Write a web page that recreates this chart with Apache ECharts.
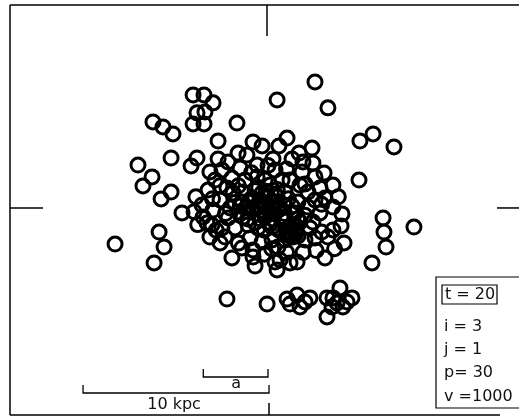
<!DOCTYPE html>
<html><head><meta charset="utf-8">
<script src="https://cdn.jsdelivr.net/npm/echarts@6/dist/echarts.min.js"></script>
<style>html,body{margin:0;padding:0;background:#fff}#c{width:519px;height:417px}</style>
</head><body><div id="c"></div>
<script>
// Particle positions in kpc relative to the centre of the frame
const xKpc = [2.54,0.49,3.24,-4.05,-3.46,-2.97,-3.84,-3.41,-4.05,-3.46,
-6.22,-5.68,-5.14,-1.68,-2.70,-5.24,-3.84,-4.16,-7.03,-0.81,
-0.32,-1.62,-1.14,-2.70,-2.16,4.97,5.68,6.81,1.03,2.38,
0.59,0.27,1.30,1.68,-6.27,-6.76,-5.24,-5.78,-4.65,-5.89,
-5.62,-8.27,-6.16,4.92,6.22,6.27,6.38,7.89,5.62,3.08,
4.11,3.95,-2.22,-0.05,1.03,1.57,1.73,2.27,3.19,3.89,
4.27,4.54,3.46,3.73,3.19,4.05,2.00,1.19,3.51,
-3.14,-2.59,-1.95,-1.41,-0.81,-0.32,-0.70,-3.03,-2.32,0.22,
-1.35,-1.08,-1.41,-1.89,-1.35,-0.70,-0.16,0.11,-0.59,-2.86,
-2.22,-3.24,-3.57,-3.51,-0.59,-3.14,-2.49,-3.30,
1.89,2.43,1.84,2.54,3.03,3.51,2.16,3.08,3.51,2.81,
2.16,1.62,4.00,3.24,2.54,2.00,1.35,0.92,0.22,0.54,
0.38,1.19,0.49,1.57,3.51,2.43,1.19,1.73,0.92,2.54,
1.46,2.27,2.81,1.73,
-2.59,-2.05,-1.62,-2.16,-1.78,-0.97,-0.54,-1.95,-1.24,-2.97,
-2.49,-1.51,0.38,0.76,
-0.43,0.00,0.43,-0.32,0.11,0.54,-0.16,0.27,-0.65,0.70,
-0.11,0.16,-0.54,0.38,-0.32,-0.86,0.86,0.00,
1.08,1.46,1.62,1.19,1.35,0.92,0.65,-0.81,
-0.90,0.90,-0.50,0.50,-0.20,0.60,-1.10,1.10,-0.70,0.30,-0.30,0.20,
-1.80,-2.30,-1.20,-0.90,0.00,1.00,2.00,1.30,2.00,2.90,2.90,3.80,
1.00,-0.20,-1.60,-2.80,-3.80,-3.90,-2.60,-1.60,0.20,1.90,2.60,3.60,
-4.00,-3.00,1.20,1.50,1.30,1.00,
-0.60,0.60,-0.10,0.10,-1.00,1.00,-0.40,0.50,1.60,-1.50];
const yKpc = [6.81,5.84,5.41,6.11,6.11,5.68,5.14,5.19,4.54,4.54,
4.65,4.38,4.00,4.59,3.62,2.70,2.70,2.27,2.32,3.57,
3.35,2.97,2.86,2.65,2.49,3.62,4.00,3.30,3.78,3.24,
3.35,2.65,2.65,2.97,1.68,1.19,0.86,0.49,-0.27,-1.30,
-2.11,-1.95,-2.97,1.51,-0.54,-1.30,-2.11,-1.03,-2.97,-2.70,
-1.89,-0.97,-4.92,-5.19,-4.92,-4.70,-5.35,-4.86,-4.86,-4.32,
-5.08,-4.86,-5.35,-5.14,-5.89,-5.35,-5.08,-5.19,-4.86,
-1.57,-1.89,-2.70,-2.16,-2.65,-1.84,-3.14,-0.92,-1.57,-1.73,
-0.49,-0.92,0.32,0.81,0.86,0.97,1.51,1.24,2.32,1.51,
1.08,0.97,0.16,-0.49,1.68,1.95,2.05,-0.81,
2.49,2.43,1.95,1.68,1.89,1.24,0.86,0.54,0.05,-0.27,
0.05,0.32,-0.32,-1.57,-1.62,-1.73,-1.57,-0.65,-1.03,-2.11,
-2.92,-2.97,-3.35,-2.92,-1.19,-0.76,1.51,1.24,0.86,0.43,
-0.27,-1.08,1.08,-0.76,
0.43,0.00,-0.22,-0.54,-1.08,-1.62,-1.08,1.62,1.51,-0.11,
-1.08,2.16,2.05,1.51,
0.43,0.59,0.32,-0.11,-0.22,-0.11,-0.49,-0.59,0.11,-0.49,
0.16,0.11,-0.32,0.76,0.81,0.54,0.16,-0.76,
-1.08,-1.19,-1.51,-1.51,-0.92,-1.73,-2.81,-2.27,
-0.10,-0.30,1.10,1.00,-1.20,-1.20,-0.60,0.50,-0.80,0.30,0.30,-0.30,
0.30,-0.30,0.00,1.90,2.30,2.10,1.30,0.10,-0.40,-1.30,0.20,0.60,
-2.40,-2.50,-1.90,-1.20,-0.90,0.60,1.20,1.20,-2.20,-2.40,-2.30,-2.20,
-0.20,0.50,-1.30,-1.40,-1.10,-1.40,
0.00,0.10,0.90,-0.90,0.40,-0.70,-0.60,0.60,-0.60,0.10];
const xRange = [-13.95, 13.57];
const yRange = [-11.19, 10.97];
const timeLabel = 't = 20';
const paramLines = ['i = 3', 'j = 1', 'p= 30', 'v =1000'];
const scaleBarKpc = 10;
const scaleBarLabel = '10 kpc';
const scaleLengthA = 3.5;
const scaleLengthLabel = 'a';

const chart = echarts.init(document.getElementById('c'), null, {renderer: 'canvas'});
const pts = xKpc.map((x, i) => [x, yKpc[i]]);
chart.setOption({
  animation: false,
  backgroundColor: '#fff',
  grid: {left: 10, right: 0, top: 5, bottom: 2, show: false},
  xAxis: {type: 'value', min: xRange[0], max: xRange[1], show: false},
  yAxis: {type: 'value', min: yRange[0], max: yRange[1], show: false},
  series: [{
    type: 'scatter', silent: true, data: pts,
    symbol: 'circle', symbolSize: 14,
    itemStyle: {color: 'rgba(0,0,0,0)', borderColor: '#000', borderWidth: 3, opacity: 1}
  }]
});

const P = (x, y) => chart.convertToPixel({gridIndex: 0}, [x, y]);
const line = (x1, y1, x2, y2, w) => ({type: 'line', silent: true, z: 10,
  shape: {x1, y1, x2, y2}, style: {stroke: '#000', lineWidth: w || 1.5}});
const poly = (points, w) => ({type: 'polyline', silent: true, z: 10,
  shape: {points}, style: {stroke: '#000', lineWidth: w || 1.3, fill: null}});
const txt = (t, x, y, align) => ({type: 'text', silent: true, z: 10, x, y,
  style: {text: t, fill: '#111', font: '16px "DejaVu Sans"', align: align || 'left', verticalAlign: 'middle'}});

const tl = P(xRange[0], yRange[1]);
const br = P(xRange[1], yRange[0]);
const o = P(0, 0);
const g = [];
// frame
g.push(line(tl[0], tl[1], tl[0], br[1]));
g.push(line(tl[0], tl[1], br[0], tl[1]));
g.push(line(tl[0], br[1], br[0] - 19, br[1]));
// centre ticks
g.push(line(o[0] - 1, tl[1], o[0] - 1, tl[1] + 31));
g.push(line(o[0] + 1, br[1], o[0] + 1, br[1] - 12));
g.push(line(tl[0], o[1], tl[0] + 33, o[1]));
g.push(line(br[0] - 22, o[1], br[0], o[1]));
// scale bars
const s0 = P(-scaleBarKpc, 0)[0], s1 = P(0, 0)[0] + 1;
const a0 = P(-scaleLengthA, 0)[0];
g.push(poly([[s0, 385], [s0, 393], [s1, 393], [s1, 385]]));
g.push(poly([[a0, 369], [a0, 377], [s1 - 1, 377], [s1 - 1, 369]]));
g.push(txt(scaleLengthLabel, (a0 + s1) / 2, 384, 'center'));
g.push(txt(scaleBarLabel, (s0 + s1) / 2 - 2, 405, 'center'));
// parameter box
const bx = 436;
g.push({type: 'rect', silent: true, z: 10, shape: {x: bx, y: 277, width: 100, height: 131},
  style: {fill: '#fff', stroke: '#000', lineWidth: 1.2}});
g.push({type: 'rect', silent: true, z: 11, shape: {x: bx + 6, y: 285, width: 55, height: 19},
  style: {fill: null, stroke: '#000', lineWidth: 1.2}});
g.push(txt(timeLabel, bx + 9, 295));
const ly = [327, 350, 373, 397];
paramLines.forEach((t, i) => g.push(txt(t, bx + 8, ly[i])));
chart.setOption({graphic: g});
</script></body></html>
